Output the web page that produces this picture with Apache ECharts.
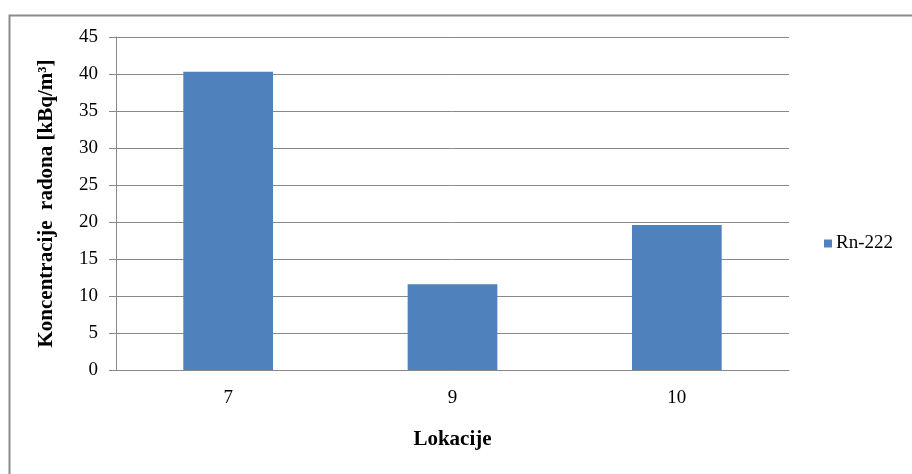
<!DOCTYPE html>
<html>
<head>
<meta charset="utf-8">
<script src="https://cdn.jsdelivr.net/npm/echarts@6/dist/echarts.min.js"></script>
<style>
html, body { margin: 0; padding: 0; background: #fff; }
#chart { width: 912px; height: 474px; }
</style>
</head>
<body>
<div id="chart"></div>
<script>
// lokacije i koncentracije
var categories = ['7', '9', '10'];
var rnValues = [40.3, 11.6, 19.6];
var seriesName = 'Rn-222';

var chart = echarts.init(document.getElementById('chart'));

var option = {
    backgroundColor: '#ffffff',
    animation: false,
    textStyle: { fontFamily: 'Liberation Serif' },
    graphic: [{
        type: 'rect',
        shape: { x: 9.5, y: 15.5, width: 920, height: 480 },
        style: { fill: 'none', stroke: '#8c8c8c', lineWidth: 2 },
        silent: true
    }],
    legend: {
        data: [seriesName],
        left: 819,
        top: 229,
        itemWidth: 8,
        itemHeight: 8,
        itemGap: 5,
        icon: 'rect',
        textStyle: { fontFamily: 'Liberation Serif', fontSize: 19, color: '#000', padding: [0, 0, 0, -1] }
    },
    grid: {
        left: 116,
        right: 123,
        top: 37,
        bottom: 104
    },
    xAxis: {
        type: 'category',
        data: categories,
        name: 'Lokacije',
        nameLocation: 'middle',
        nameGap: 59,
        nameTextStyle: { fontFamily: 'Liberation Serif', fontSize: 21, fontWeight: 'bold', color: '#000' },
        axisLine: { lineStyle: { color: '#888888', width: 1 } },
        axisTick: { show: false },
        axisLabel: { fontFamily: 'Liberation Serif', fontSize: 19, color: '#000', margin: 19 }
    },
    yAxis: {
        type: 'value',
        min: 0,
        max: 45,
        interval: 5,
        name: 'Koncentracije  radona [kBq/m³]',
        nameLocation: 'middle',
        nameGap: 59,
        nameTextStyle: { fontFamily: 'Liberation Serif', fontSize: 21, fontWeight: 'bold', color: '#000' },
        axisLine: { show: true, lineStyle: { color: '#888888', width: 1 } },
        axisTick: { show: true, length: 7, lineStyle: { color: '#888888' } },
        axisLabel: { fontFamily: 'Liberation Serif', fontSize: 19, color: '#000', margin: 18 },
        splitLine: { lineStyle: { color: '#888888', width: 1 } }
    },
    series: [{
        name: seriesName,
        type: 'bar',
        data: rnValues,
        barWidth: '40%',
        itemStyle: { color: '#4F81BD' }
    }]
};

chart.setOption(option);
</script>
</body>
</html>
